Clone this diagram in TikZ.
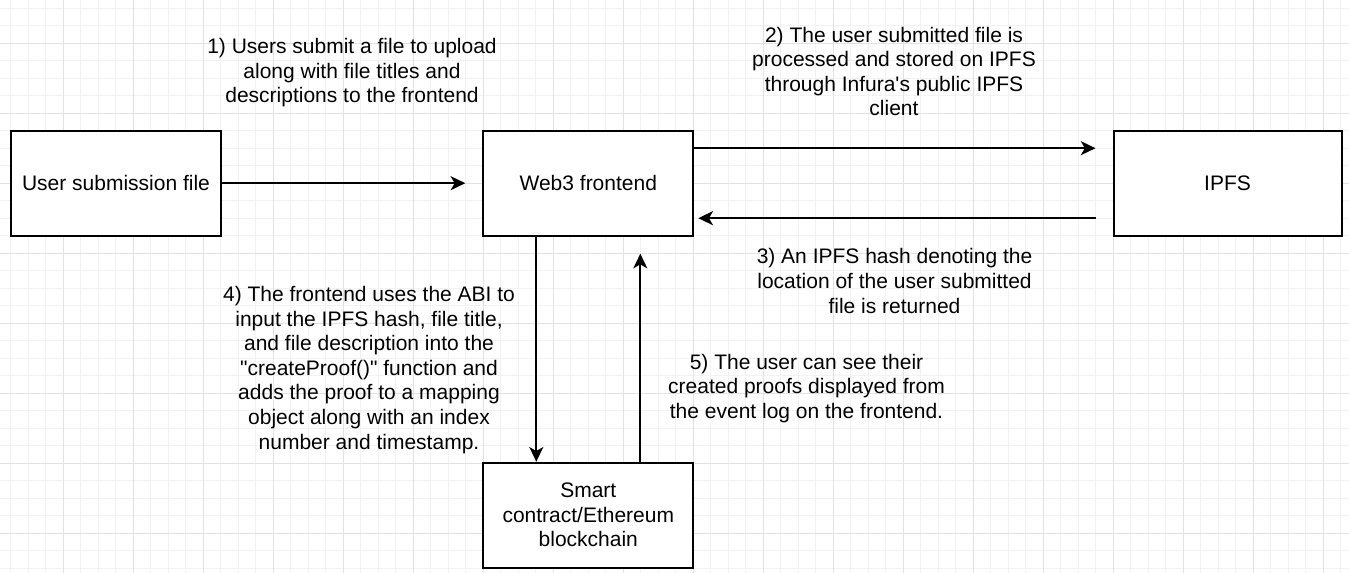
\documentclass[tikz,border=0pt]{standalone}
\usepackage{fontspec}
\setmainfont{Liberation Sans}[Ligatures=TeXOff]
\usetikzlibrary{positioning, arrows.meta}

\definecolor{gridlight}{HTML}{F2F2F2}
\definecolor{griddark}{HTML}{E2E2E2}

\tikzset{
    box/.style={draw, line width=1.5pt, fill=white, minimum width=157.5pt, minimum height=78.75pt, inner sep=0pt, align=center},
    note/.style={align=center, inner sep=0pt},
    gridminor/.style={draw=gridlight, line width=0.75pt},
    gridmajor/.style={draw=griddark, line width=0.75pt},
    flow/.style={-{Stealth[length=11pt, width=10.5pt, inset=3pt]}, line width=1.5pt}
}

\begin{document}
\begin{tikzpicture}[x=0.75pt, y=-0.75pt, font=\fontsize{15.75pt}{18.4pt}\selectfont]
            % page and grid
            \fill [white] (0, 0) rectangle (1349, 573);
            \useasboundingbox (0, 0) rectangle (1349, 573);
            \foreach \gx in {0, ..., 76}
                \draw [gridminor] ({10.5 + 17.5*\gx}, 0) -- ({10.5 + 17.5*\gx}, 573);
            \foreach \gy in {0, ..., 32}
                \draw [gridminor] (0, {8.3 + 17.5*\gy}) -- (1349, {8.3 + 17.5*\gy});
            \foreach \gx in {0, ..., 18}
                \draw [gridmajor] ({63 + 70*\gx}, 0) -- ({63 + 70*\gx}, 573);
            \foreach \gy in {0, ..., 7}
                \draw [gridmajor] (0, {43.3 + 70*\gy}) -- (1349, {43.3 + 70*\gy});

            \node [box] (user) at (116, 183.2) {User submission file};
            \node [box] (web3) at (588.3, 183.2) {Web3 frontend};
            \node [box, minimum width=171pt] (ipfs) at (1227.5, 183.2) {IPFS};
            \node [box] (chain) at (588.3, 515.2) {Smart\\contract/Ethereum\\blockchain};

            \node [note] (step1) at (352, 73) {1) Users submit a file to upload\\along with file titles and\\descriptions to the frontend};
            \node [note] (step2) at (894, 71.5) {2) The user submitted file is\\processed and stored on IPFS\\through Infura's public IPFS\\client};
            \node [note] (step3) at (894.5, 281) {3) An IPFS hash denoting the\\location of the user submitted\\file is returned};
            \node [note] (step4) at (369, 370) {4) The frontend uses the ABI to\\input the IPFS hash, file title,\\and file description into the\\"createProof()" function and\\adds the proof to a mapping\\object along with an index\\number and timestamp.};
            \node [note] (step5) at (806.5, 388.5) {5) The user can see their\\created proofs displayed from\\the event log on the frontend.};

            \draw [flow, shorten >=12.75pt] (user) -- (web3);
            \draw [flow, shorten >=12.75pt] ([yshift=26.25pt]web3.east) -- ([yshift=26.25pt]ipfs.west);
            \draw [flow, shorten <=12.75pt, shorten >=3pt] ([yshift=-26.25pt]ipfs.west) -- ([yshift=-26.25pt]web3.east);
            \draw [flow] ([xshift=-39pt]web3.south) -- ([xshift=-39pt]chain.north);
            \draw [flow, shorten >=12.75pt] ([xshift=39pt]chain.north) -- ([xshift=39pt]web3.south);
        \end{tikzpicture}
\end{document}
